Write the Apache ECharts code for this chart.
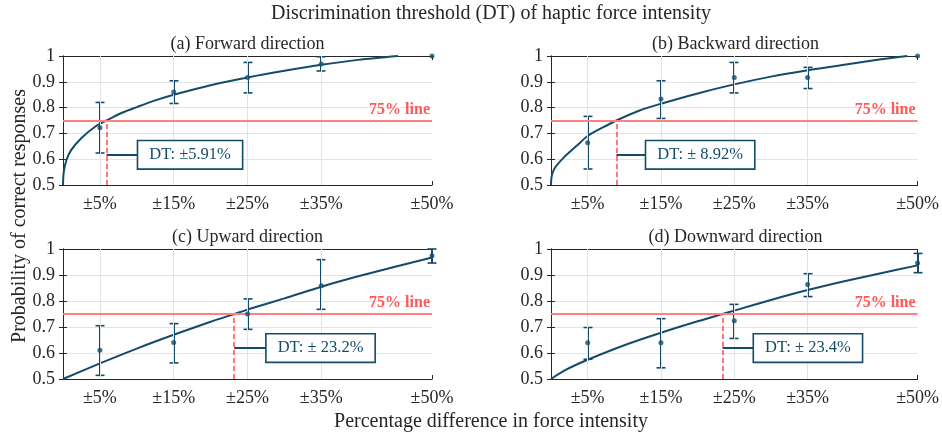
<!DOCTYPE html>
<html>
<head>
<meta charset="utf-8">
<script src="https://cdn.jsdelivr.net/npm/echarts@6/dist/echarts.min.js"></script>
<style>html,body{margin:0;padding:0;background:#fff}#c{width:942px;height:436px}</style>
</head>
<body>
<div id="c"></div>
<script>
// ---------- data ----------
const xTicks = [5, 15, 25, 35, 50];
const xTickLabels = ['±5%', '±15%', '±25%', '±35%', '±50%'];
const panelTitles = ['(a) Forward direction', '(b) Backward direction', '(c) Upward direction', '(d) Downward direction'];

const meanA  = [0.722, 0.860, 0.917, 0.969, 1.000];
const upperA = [0.820, 0.904, 0.975, 0.997, 1.000];
const lowerA = [0.624, 0.816, 0.857, 0.942, 1.000];

const meanB  = [0.664, 0.833, 0.917, 0.917, 1.000];
const upperB = [0.766, 0.904, 0.975, 0.956, 1.000];
const lowerB = [0.562, 0.758, 0.857, 0.874, 1.000];

const meanC  = [0.611, 0.640, 0.750, 0.859, 0.974];
const upperC = [0.705, 0.713, 0.808, 0.959, 1.000];
const lowerC = [0.514, 0.562, 0.691, 0.768, 0.946];

const meanD  = [0.639, 0.639, 0.724, 0.863, 0.946];
const upperD = [0.698, 0.732, 0.787, 0.905, 0.983];
const lowerD = [0.576, 0.543, 0.656, 0.817, 0.909];

// fitted curves: [x, p]
const curveA = [[0,0.5],[0.1,0.55],[0.45,0.595],[1.1,0.635],[2.5,0.682],[4.3,0.725],[5.91,0.75],[8,0.78],[10,0.802],[12.5,0.828],[15,0.85],[20,0.887],[25,0.917],[30,0.943],[35,0.966],[40,0.985],[45.4,1.0]];
const curveB = [[0,0.5],[0.1,0.535],[0.5,0.565],[1.7,0.605],[3.5,0.652],[5,0.69],[7,0.722],[8.92,0.75],[12,0.788],[15,0.815],[20,0.855],[25,0.89],[30,0.92],[35,0.945],[40,0.966],[45,0.987],[48.6,1.0]];
const curveC = [[0,0.5],[5,0.56],[10,0.617],[15,0.67],[20,0.72],[23.2,0.75],[25,0.767],[30,0.81],[35,0.855],[40,0.895],[45,0.932],[50,0.967]];
const curveD = [[0,0.5],[2,0.535],[5,0.574],[10,0.63],[15,0.678],[20,0.722],[23.4,0.75],[25,0.763],[30,0.804],[35,0.842],[40,0.876],[45,0.907],[50,0.937]];

const dtValues = [5.91, 8.92, 23.2, 23.4];
const dtLabels = ['DT: ±5.91%', 'DT: ± 8.92%', 'DT: ± 23.2%', 'DT: ± 23.4%'];
const threshold = 0.75;

// ---------- layout / style ----------
const FONT = '"Liberation Serif", "Times New Roman", serif';
const TEAL = '#154b6a';
const RED_LINE = '#ff8080';
const RED_DASH = '#ff4d4d';
const AX = '#262626';
const GRIDC = '#e3e3e3';
const grids = [
  {left: 63, top: 56, width: 369, height: 129},
  {left: 551, top: 56, width: 369, height: 129},
  {left: 63, top: 249, width: 369, height: 130},
  {left: 551, top: 249, width: 369, height: 130}
];
const boxAnchor = [[10.2, 0.617], [13.0, 0.617], [27.6, 0.619], [27.7, 0.619]]; // data coords of annotation box left edge

const panels = [
  {mean: meanA, upper: upperA, lower: lowerA, curve: curveA},
  {mean: meanB, upper: upperB, lower: lowerB, curve: curveB},
  {mean: meanC, upper: upperC, lower: lowerC, curve: curveC},
  {mean: meanD, upper: upperD, lower: lowerD, curve: curveD}
];

const xAxes = [], yAxes = [], series = [], graphics = [];

panels.forEach((p, i) => {
  const g = grids[i];
  xAxes.push({
    gridIndex: i, type: 'value', min: 0, max: 50, position: 'bottom',
    axisLine: {show: true, lineStyle: {color: AX, width: 1}},
    axisTick: {show: true, inside: true, length: 4, customValues: xTicks, lineStyle: {color: AX}},
    axisLabel: {customValues: xTicks, formatter: v => xTickLabels[xTicks.indexOf(v)] || '', margin: 10,
                fontSize: 18, fontFamily: FONT, color: AX},
    splitLine: {show: false}
  });
  xAxes.push({
    gridIndex: i, type: 'value', min: 0, max: 50, position: 'top',
    axisLine: {show: true, lineStyle: {color: AX, width: 1}},
    axisTick: {show: true, inside: true, length: 4, customValues: xTicks, lineStyle: {color: AX}},
    axisLabel: {show: false}, splitLine: {show: false}
  });
  yAxes.push({
    gridIndex: i, type: 'value', min: 0.5, max: 1, interval: 0.1, position: 'left',
    axisLine: {show: true, lineStyle: {color: AX, width: 1}},
    axisTick: {show: true, inside: true, length: 4, lineStyle: {color: AX}},
    axisLabel: {margin: 8, fontSize: 18, fontFamily: FONT, color: AX,
                formatter: v => (Math.round(v * 10) / 10).toString()},
    splitLine: {show: true, lineStyle: {color: GRIDC, width: 1}}
  });
  yAxes.push({
    gridIndex: i, type: 'value', min: 0.5, max: 1, interval: 0.1, position: 'right',
    axisLine: {show: true, lineStyle: {color: AX, width: 1}},
    axisTick: {show: true, inside: true, length: 4, lineStyle: {color: AX}},
    axisLabel: {show: false}, splitLine: {show: false}
  });
  const xi = 2 * i, yi = 2 * i;

  series.push({
    type: 'line', xAxisIndex: xi, yAxisIndex: yi, data: [], z: 1, silent: true,
    markLine: {silent: true, symbol: ['none', 'none'], label: {show: false},
      lineStyle: {color: GRIDC, width: 1, type: 'solid'},
      data: xTicks.slice(0, 4).map(v => ({xAxis: v}))}
  });

  const dt = dtValues[i];
  const ba = boxAnchor[i];
  series.push({
    type: 'line', xAxisIndex: xi, yAxisIndex: yi, data: p.curve, smooth: 0.3,
    showSymbol: false, symbol: 'none', z: 3, clip: false,
    lineStyle: {color: TEAL, width: 2},
    markLine: {
      silent: true, symbol: ['none', 'none'], animation: false,
      data: [
        {yAxis: threshold, lineStyle: {color: RED_LINE, width: 2, type: 'solid'},
         label: {show: true, position: 'insideEndTop', formatter: '75% line', distance: [2, 3],
                 color: '#ff5a5a', fontWeight: 'bold', fontSize: 16, fontFamily: FONT}},
        [{coord: [dt, 0.5], lineStyle: {color: RED_DASH, width: 1.5, type: [5, 3]}, label: {show: false}},
         {coord: [dt, threshold]}],
        [{coord: [dt, ba[1]], lineStyle: {color: TEAL, width: 2, type: 'solid'}, label: {show: false}},
         {coord: [ba[0], ba[1]]}]
      ]
    },
    markPoint: {
      silent: true, animation: false,
      data: [{coord: ba, symbol: 'rect', symbolSize: 0,
        label: {show: true, position: 'right', distance: 0, formatter: dtLabels[i],
          color: TEAL, fontSize: 16.5, fontFamily: FONT, lineHeight: 18,
          backgroundColor: '#fff', borderColor: TEAL, borderWidth: 1.6, padding: [5, 11, 4, 11]}}]
    }
  });

  series.push({
    type: 'custom', xAxisIndex: xi, yAxisIndex: yi, z: 4, clip: false,
    data: xTicks.map((x, k) => [x, p.lower[k], p.upper[k]]),
    encode: {x: 0, y: [1, 2]},
    renderItem: (params, api) => {
      const x = api.value(0), lo = api.value(1), hi = api.value(2);
      if (hi - lo < 1e-6) return {type: 'group', children: []};
      const t = api.coord([x, hi]), b = api.coord([x, lo]);
      const cx = Math.round(t[0]);
      const w = 4.5;
      const st = {stroke: TEAL, lineWidth: 2};
      return {type: 'group', children: [
        {type: 'line', shape: {x1: cx, y1: t[1], x2: cx, y2: b[1]}, style: st},
        {type: 'line', shape: {x1: cx - w, y1: t[1], x2: cx + w, y2: t[1]}, style: {stroke: TEAL, lineWidth: 1.6}},
        {type: 'line', shape: {x1: cx - w, y1: b[1], x2: cx + w, y2: b[1]}, style: {stroke: TEAL, lineWidth: 1.6}}
      ]};
    }
  });

  series.push({
    type: 'scatter', xAxisIndex: xi, yAxisIndex: yi, z: 5, clip: false,
    data: xTicks.map((x, k) => [x, p.mean[k]]),
    symbol: 'circle', symbolSize: 5, itemStyle: {color: TEAL}
  });

  graphics.push({type: 'text', x: g.left + g.width / 2, y: i < 2 ? 44 : 237.5,
    style: {text: panelTitles[i], font: '18px ' + FONT, fill: AX,
            textAlign: 'center', textVerticalAlign: 'middle', align: 'center', verticalAlign: 'middle'}});
});

graphics.push({type: 'text', x: 491, y: 14,
  style: {text: 'Discrimination threshold (DT) of haptic force intensity', font: '20px ' + FONT, fill: AX,
          textAlign: 'center', textVerticalAlign: 'middle', align: 'center', verticalAlign: 'middle'}});
graphics.push({type: 'text', x: 491, y: 422,
  style: {text: 'Percentage difference in force intensity', font: '20px ' + FONT, fill: AX,
          textAlign: 'center', textVerticalAlign: 'middle', align: 'center', verticalAlign: 'middle'}});
graphics.push({type: 'text', x: 20, y: 216, rotation: Math.PI / 2,
  style: {text: 'Probability of correct responses', font: '20px ' + FONT, fill: AX,
          textAlign: 'center', textVerticalAlign: 'middle', align: 'center', verticalAlign: 'middle'}});

const chart = echarts.init(document.getElementById('c'), null, {renderer: 'canvas'});
chart.setOption({
  animation: false,
  backgroundColor: '#fff',
  textStyle: {fontFamily: FONT},
  grid: grids.map(g => Object.assign({containLabel: false, show: false}, g)),
  xAxis: xAxes,
  yAxis: yAxes,
  series: series,
  graphic: graphics
});
</script>
</body>
</html>
